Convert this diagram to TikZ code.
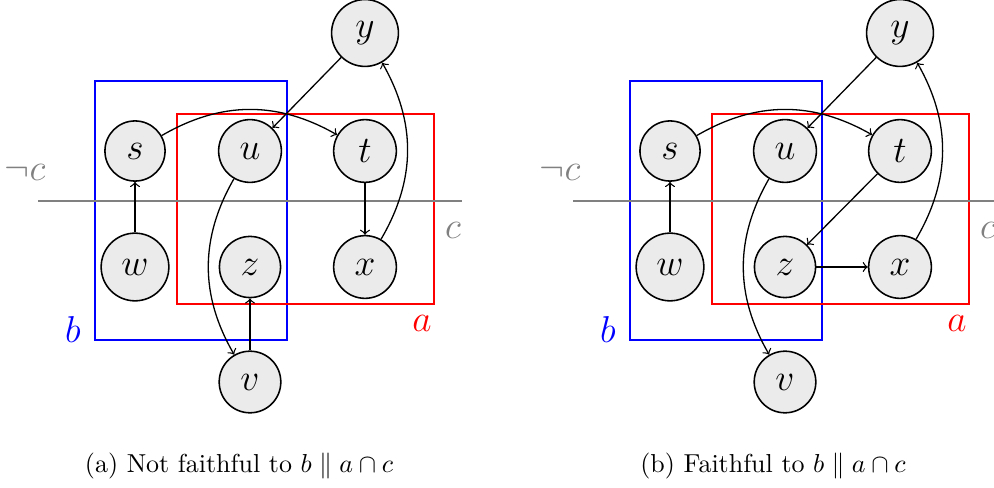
\documentclass[tikz,border=0pt]{standalone}
\usepackage{amsmath}
\definecolor{varfill}{gray}{0.92}
\definecolor{cutgray}{gray}{0.5}
\definecolor{setblue}{rgb}{0,0,1}
\definecolor{setred}{rgb}{1,0,0}
\tikzstyle{var} = [circle, draw, line width=0.6pt, fill=varfill, inner sep=5pt, font=\fontsize{15}{18}\selectfont]
\tikzstyle{setlabel} = [font=\fontsize{15}{18}\selectfont]
\tikzstyle{arrow} = [line width=0.5pt, ->]
\tikzstyle{setbox} = [line width=0.6pt]

\begin{document}
\begin{tikzpicture}[x=0.385pt, y=0.385pt]
    \useasboundingbox (0,0) rectangle (994,487);

    % (a) Not faithful
    % Sets
    \draw[setbox, setblue] (95,406) rectangle (287,147);
    \draw[setbox, setred] (177,373) rectangle (434,183);
    \node[setlabel, setblue] (b1) at (73,157) {$b$};
    \node[setlabel, setred] (a1) at (422,164) {$a$};
    % Cut
    \coordinate (cutw1) at (38,286);
    \coordinate (cute1) at (462,286);
    \draw[cutgray, line width=0.6pt] (cutw1) -- (cute1);
    \node[setlabel, cutgray] (nc1) at (25,315) {$\neg c$};
    \node[setlabel, cutgray] (c1) at (453,257) {$c$};
    % Variables
    \node[var] (y1) at (365,454) {$y$};
    \node[var] (s1) at (135,336) {$s$};
    \node[var] (u1) at (250,336) {$u$};
    \node[var] (t1) at (365,336) {$t$};
    \node[var] (w1) at (135,220) {$w$};
    \node[var] (z1) at (250,220) {$z$};
    \node[var] (x1) at (365,220) {$x$};
    \node[var] (v1) at (250,105) {$v$};
    % Arrows
    \draw[arrow] (w1) -- (s1);
    \draw[arrow] (s1) to[bend left=30] (t1);
    \draw[arrow] (y1) -- (u1);
    \draw[arrow] (u1) to[bend right=30] (v1);
    \draw[arrow] (v1) -- (z1);
    \draw[arrow] (t1) -- (x1);
    \draw[arrow] (x1) to[bend right=30] (y1);
    % Caption
    \node[font=\normalsize] (cap1) at (239,21) {(a) Not faithful to $b \parallel a \cap c$};

    % (b) Faithful
    \begin{scope}[shift={(535,0)}]
        % Sets
        \draw[setbox, setblue] (95,406) rectangle (287,147);
        \draw[setbox, setred] (177,373) rectangle (434,183);
        \node[setlabel, setblue] (b2) at (73,157) {$b$};
        \node[setlabel, setred] (a2) at (422,164) {$a$};
        % Cut
        \coordinate (cutw2) at (38,286);
        \coordinate (cute2) at (462,286);
        \draw[cutgray, line width=0.6pt] (cutw2) -- (cute2);
        \node[setlabel, cutgray] (nc2) at (25,315) {$\neg c$};
        \node[setlabel, cutgray] (c2) at (453,257) {$c$};
        % Variables
        \node[var] (y2) at (365,454) {$y$};
        \node[var] (s2) at (135,336) {$s$};
        \node[var] (u2) at (250,336) {$u$};
        \node[var] (t2) at (365,336) {$t$};
        \node[var] (w2) at (135,220) {$w$};
        \node[var] (z2) at (250,220) {$z$};
        \node[var] (x2) at (365,220) {$x$};
        \node[var] (v2) at (250,105) {$v$};
        % Arrows
        \draw[arrow] (w2) -- (s2);
        \draw[arrow] (s2) to[bend left=30] (t2);
        \draw[arrow] (y2) -- (u2);
        \draw[arrow] (u2) to[bend right=30] (v2);
        \draw[arrow] (t2) -- (z2);
        \draw[arrow] (z2) -- (x2);
        \draw[arrow] (x2) to[bend right=30] (y2);
        % Caption
        \node[font=\normalsize] (cap2) at (238,21) {(b) Faithful to $b \parallel a \cap c$};
    \end{scope}
\end{tikzpicture}
\end{document}
